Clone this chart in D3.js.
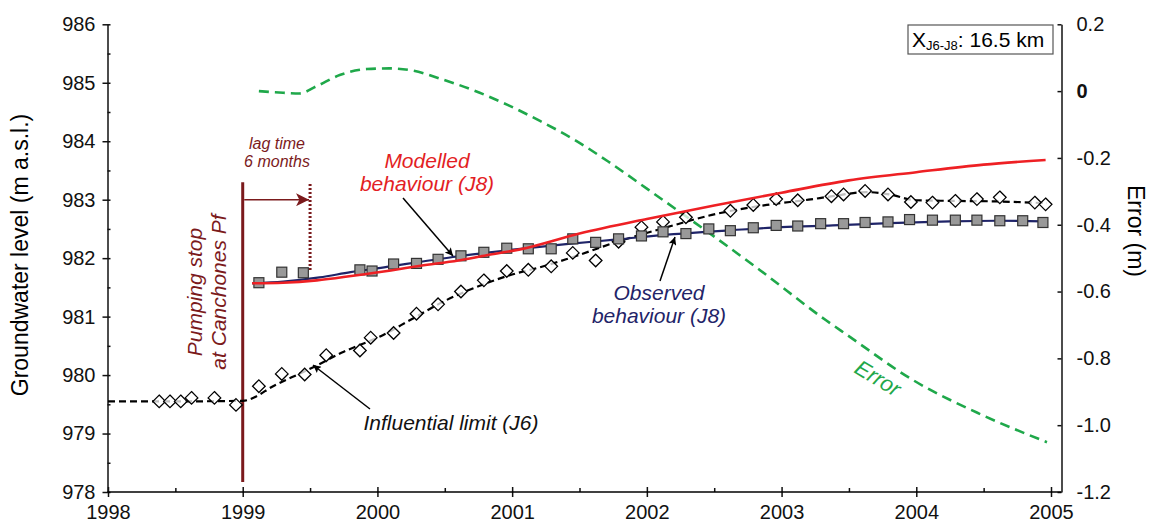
<!DOCTYPE html>
<html>
<head>
<meta charset="utf-8">
<script src="https://cdn.jsdelivr.net/npm/d3@7"></script>
<style>
  body { margin: 0; background: #fff; }
  svg { display: block; font-family: "Liberation Sans", Arial, sans-serif; }
</style>
</head>
<body>
<div id="chart"></div>
<script>
// observed J8 (grey squares)
var j8_years = [1999.12, 1999.29, 1999.45, 1999.87, 1999.96, 2000.12, 2000.29, 2000.45, 2000.62, 2000.79, 2000.96,
  2001.12, 2001.29, 2001.45, 2001.62, 2001.79, 2001.96, 2002.12, 2002.29, 2002.46, 2002.62, 2002.79, 2002.96,
  2003.12, 2003.29, 2003.46, 2003.62, 2003.79, 2003.95, 2004.12, 2004.29, 2004.45, 2004.62, 2004.79, 2004.94]
var j8_level = [981.58, 981.76, 981.75, 981.80, 981.78, 981.90, 981.91, 981.98, 982.04, 982.10, 982.17,
  982.16, 982.16, 982.33, 982.27, 982.33, 982.38, 982.45, 982.42, 982.50, 982.47, 982.52, 982.56,
  982.55, 982.59, 982.59, 982.61, 982.62, 982.66, 982.65, 982.65, 982.65, 982.64, 982.64, 982.61]

// influential limit J6 (open diamonds)
var j6_years = [1998.38, 1998.46, 1998.54, 1998.62, 1998.79, 1998.95, 1999.12, 1999.29, 1999.46, 1999.62, 1999.87,
  1999.95, 2000.12, 2000.29, 2000.45, 2000.62, 2000.79, 2000.96, 2001.12, 2001.29, 2001.45, 2001.62, 2001.79,
  2001.96, 2002.12, 2002.29, 2002.62, 2002.79, 2002.96, 2003.12, 2003.37, 2003.46, 2003.62, 2003.79, 2003.96,
  2004.12, 2004.29, 2004.45, 2004.62, 2004.88, 2004.96]
var j6_level = [979.55, 979.55, 979.55, 979.61, 979.61, 979.49, 979.81, 980.02, 980.01, 980.34, 980.42,
  980.64, 980.72, 981.05, 981.21, 981.43, 981.62, 981.78, 981.80, 981.86, 982.09, 981.96, 982.28,
  982.53, 982.62, 982.70, 982.81, 982.91, 983.01, 982.99, 983.06, 983.09, 983.15, 983.09, 982.96,
  982.95, 982.98, 983.01, 983.04, 982.95, 982.92]

// J6 dashed trend
var j6_fit_years = [1998.0, 1998.5, 1999.0, 1999.25, 1999.52, 1999.75, 2000.02, 2000.25, 2000.51, 2000.75, 2001.0,
  2001.2, 2001.4, 2001.78, 2002.15, 2002.52, 2002.89, 2003.2, 2003.38, 2003.63, 2003.8, 2004.0, 2004.25, 2004.6, 2004.97]
var j6_fit_level = [979.55, 979.55, 979.56, 979.84, 980.13, 980.4, 980.66, 980.95, 981.28, 981.52, 981.72,
  981.84, 981.98, 982.28, 982.53, 982.76, 982.91, 983.0, 983.06, 983.13, 983.09, 982.99, 982.98, 982.97, 982.94]

// observed behaviour J8 (navy line)
var obs_years = [1999.07, 1999.3, 1999.57, 1999.8, 2000.07, 2000.3, 2000.56, 2000.8, 2001.06, 2001.4, 2001.78,
  2002.2, 2002.64, 2003.0, 2003.38, 2003.8, 2004.25, 2004.6, 2004.95]
var obs_level = [981.57, 981.6, 981.67, 981.76, 981.85, 981.93, 982.02, 982.09, 982.16, 982.24, 982.32,
  982.41, 982.48, 982.53, 982.56, 982.6, 982.63, 982.64, 982.63]

// modelled behaviour J8 (red line)
var model_years = [1999.07, 1999.3, 1999.55, 1999.82, 2000.1, 2000.32, 2000.6, 2000.81, 2001.06, 2001.5, 2002.0,
  2002.5, 2003.0, 2003.5, 2004.0, 2004.5, 2004.96]
var model_level = [981.57, 981.58, 981.62, 981.70, 981.79, 981.87, 981.96, 982.05, 982.15, 982.42, 982.67,
  982.9, 983.12, 983.33, 983.47, 983.6, 983.68]

// error (right axis)
var err_years = [1999.12, 1999.3, 1999.42, 1999.55, 1999.72, 1999.92, 2000.09, 2000.27, 2000.46, 2000.71, 2000.97,
  2001.21, 2001.46, 2001.71, 2002.0, 2002.35, 2002.84, 2003.33, 2003.48, 2003.98, 2004.47, 2004.97]
var err_values = [0.0, -0.005, -0.007, 0.015, 0.048, 0.066, 0.068, 0.061, 0.038, 0.003, -0.042,
  -0.09, -0.145, -0.21, -0.292, -0.392, -0.536, -0.686, -0.728, -0.866, -0.966, -1.051]

// ticks
var year_ticks = [1998, 1999, 2000, 2001, 2002, 2003, 2004, 2005]
var year_minor = [1998.5, 1999.5, 2000.5, 2001.5, 2002.5, 2003.5, 2004.5]
var level_ticks = [978, 979, 980, 981, 982, 983, 984, 985, 986]
var level_minor = [978.5, 979.5, 980.5, 981.5, 982.5, 983.5, 984.5, 985.5]
var err_ticks = [0.2, 0, -0.2, -0.4, -0.6, -0.8, -1.0, -1.2]

var width = 1149
var height = 522
var plot = { left: 107.5, right: 1061.5, top: 24.3, bottom: 492 }

var svg = d3.select('#chart')
  .append('svg')
  .attr('width', width)
  .attr('height', height)

var x = d3.scaleLinear().domain([1998, 2005]).range([108, 1051])
var yL = d3.scaleLinear().domain([978, 986]).range([plot.bottom, plot.top])
var yR = d3.scaleLinear().domain([-1.2, 0.2]).range([plot.bottom, plot.top])

var darkRed = '#7b1a1c'
var navy = '#1f2468'

// markers
var defs = svg.append('defs')
defs.append('marker')
  .attr('id', 'arrowBlack')
  .attr('viewBox', '0 0 10 10')
  .attr('refX', 10).attr('refY', 5)
  .attr('markerUnits', 'userSpaceOnUse')
  .attr('markerWidth', 10).attr('markerHeight', 8)
  .attr('orient', 'auto')
  .append('path').attr('d', 'M0,0 L10,5 L0,10 L2,5 Z').attr('fill', '#000')
defs.append('marker')
  .attr('id', 'arrowRed')
  .attr('viewBox', '0 0 10 10')
  .attr('refX', 10).attr('refY', 5)
  .attr('markerUnits', 'userSpaceOnUse')
  .attr('markerWidth', 20).attr('markerHeight', 13)
  .attr('orient', 'auto')
  .append('path').attr('d', 'M0,0 L10,5 L0,10 L2.5,5 Z').attr('fill', darkRed)

// left axis
var leftAxis = svg.append('g')
  .attr('transform', 'translate(' + plot.left + ',0)')
  .call(d3.axisLeft(yL).tickValues(level_ticks).tickSize(5).tickSizeOuter(0).tickPadding(7))
leftAxis.selectAll('.tick line').attr('x1', 3)
svg.append('g')
  .attr('transform', 'translate(' + plot.left + ',0)')
  .call(d3.axisRight(yL).tickValues(level_minor).tickSize(3).tickFormat(''))
  .select('.domain').remove()

// right axis
var rightAxis = svg.append('g')
  .attr('transform', 'translate(' + plot.right + ',0)')
  .call(d3.axisRight(yR).tickValues(err_ticks).tickSize(-4).tickSizeOuter(0).tickPadding(15)
    .tickFormat(d => d === 0 ? '0' : d.toFixed(1)))
rightAxis.selectAll('.tick text').filter(d => d === 0).attr('font-weight', 'bold')

// bottom axis
var bottomAxis = svg.append('g')
  .attr('transform', 'translate(0,' + plot.bottom + ')')
  .call(d3.axisBottom(x).tickValues(year_ticks).tickSize(5).tickSizeOuter(0).tickPadding(8).tickFormat(d3.format('d')))
bottomAxis.select('.domain').remove()
bottomAxis.selectAll('.tick line').attr('y1', -5)
svg.append('g')
  .attr('transform', 'translate(0,' + plot.bottom + ')')
  .call(d3.axisTop(x).tickValues(year_minor).tickSize(4).tickFormat(''))
  .select('.domain').remove()
svg.append('line')
  .attr('x1', plot.left).attr('x2', plot.right)
  .attr('y1', plot.bottom).attr('y2', plot.bottom)
  .attr('stroke', '#000').attr('stroke-width', 1.5)

svg.selectAll('.tick text').attr('font-size', 20).attr('font-family', '"Liberation Sans", Arial, sans-serif').attr('fill', '#111')
svg.selectAll('.domain, .tick line').attr('stroke', '#111').attr('stroke-width', 1.5)

// axis titles
svg.append('text')
  .attr('transform', 'translate(28,255) rotate(-90)')
  .attr('text-anchor', 'middle')
  .attr('font-size', 23)
  .text('Groundwater level (m a.s.l.)')
svg.append('text')
  .attr('transform', 'translate(1128,231) rotate(90)')
  .attr('text-anchor', 'middle')
  .attr('font-size', 23)
  .text('Error (m)')

// distance box
svg.append('rect')
  .attr('x', 908).attr('y', 25).attr('width', 145).attr('height', 29)
  .attr('fill', '#fff').attr('stroke', '#555').attr('stroke-width', 1.2)
var boxText = svg.append('text').attr('x', 912).attr('y', 46.5).attr('font-size', 21)
boxText.append('tspan').text('X')
boxText.append('tspan').attr('font-size', 13).attr('dy', 3).text('J6-J8')
boxText.append('tspan').attr('dy', -3).text(': 16.5 km')

// helper to zip arrays
function zip(xs, ys) { return xs.map((d, i) => [d, ys[i]]) }

var lineL = d3.line().x(d => x(d[0])).y(d => yL(d[1])).curve(d3.curveMonotoneX)
var lineR = d3.line().x(d => x(d[0])).y(d => yR(d[1])).curve(d3.curveMonotoneX)

// error line
svg.append('path')
  .datum(zip(err_years, err_values))
  .attr('d', lineR)
  .attr('fill', 'none')
  .attr('stroke', '#1fa84a')
  .attr('stroke-width', 2.6)
  .attr('stroke-dasharray', '10,6')

// pumping stop line + lag arrow
svg.append('line')
  .attr('x1', x(1999)).attr('x2', x(1999))
  .attr('y1', yL(983.3)).attr('y2', yL(978.17))
  .attr('stroke', darkRed).attr('stroke-width', 3)
svg.append('line')
  .attr('x1', x(1999.5)).attr('x2', x(1999.5))
  .attr('y1', yL(983.27)).attr('y2', yL(981.77))
  .attr('stroke', darkRed).attr('stroke-width', 3).attr('stroke-dasharray', '2,2')
svg.append('line')
  .attr('x1', x(1999) + 1.5).attr('x2', x(1999.5) - 1)
  .attr('y1', yL(983.0)).attr('y2', yL(983.0))
  .attr('stroke', darkRed).attr('stroke-width', 1.6)
  .attr('marker-end', 'url(#arrowRed)')

// J6 dashed trend and diamonds
svg.append('path')
  .datum(zip(j6_fit_years, j6_fit_level))
  .attr('d', lineL)
  .attr('fill', 'none')
  .attr('stroke', '#000')
  .attr('stroke-width', 2.2)
  .attr('stroke-dasharray', '7,4')
svg.selectAll('.diamond')
  .data(zip(j6_years, j6_level))
  .enter()
  .append('path')
  .attr('class', 'diamond')
  .attr('d', 'M0,-6.3 L6.3,0 L0,6.3 L-6.3,0 Z')
  .attr('transform', d => 'translate(' + x(d[0]) + ',' + yL(d[1]) + ')')
  .attr('fill', '#fff')
  .attr('fill-opacity', 0.75)
  .attr('stroke', '#000')
  .attr('stroke-width', 1.3)

// observed behaviour line + squares
svg.append('path')
  .datum(zip(obs_years, obs_level))
  .attr('d', lineL)
  .attr('fill', 'none')
  .attr('stroke', navy)
  .attr('stroke-width', 2.2)
svg.selectAll('.square')
  .data(zip(j8_years, j8_level))
  .enter()
  .append('rect')
  .attr('class', 'square')
  .attr('x', d => x(d[0]) - 5)
  .attr('y', d => yL(d[1]) - 5)
  .attr('width', 10)
  .attr('height', 10)
  .attr('fill', '#999')
  .attr('stroke', '#333')
  .attr('stroke-width', 1.2)

// modelled behaviour line
svg.append('path')
  .datum(zip(model_years, model_level))
  .attr('d', lineL)
  .attr('fill', 'none')
  .attr('stroke', '#ee2024')
  .attr('stroke-width', 2.6)

// annotations
function label(lines, cx, y0, dy, size, color) {
  lines.forEach((t, i) => {
    svg.append('text')
      .attr('x', cx).attr('y', y0 + i * dy)
      .attr('text-anchor', 'middle')
      .attr('font-size', size)
      .attr('font-style', 'italic')
      .attr('fill', color)
      .text(t)
  })
}
label(['lag time', '6 months'], 277, 149, 18, 16, darkRed)
label(['Modelled', 'behaviour (J8)'], 427, 168, 23, 21, '#e31e24')
label(['Observed', 'behaviour (J8)'], 659, 300, 22.5, 21, navy)
label(['Influential limit (J6)'], 451, 430, 0, 21, '#111')

svg.append('text')
  .attr('transform', 'translate(202,292) rotate(-90)')
  .attr('text-anchor', 'middle').attr('font-size', 21).attr('font-style', 'italic').attr('fill', darkRed)
  .text('Pumping stop')
svg.append('text')
  .attr('transform', 'translate(226,292) rotate(-90)')
  .attr('text-anchor', 'middle').attr('font-size', 21).attr('font-style', 'italic').attr('fill', darkRed)
  .text('at Canchones Pf')

svg.append('text')
  .attr('transform', 'translate(878,378) rotate(31)')
  .attr('text-anchor', 'middle').attr('dy', '0.35em')
  .attr('font-size', 22).attr('font-style', 'italic').attr('fill', '#1fa84a')
  .text('Error')

// pointer arrows
var arrows = [
  [403, 198, 453, 256],
  [660, 281, 675, 237],
  [370, 409, 313, 365]
]
svg.selectAll('.pointer')
  .data(arrows)
  .enter()
  .append('line')
  .attr('class', 'pointer')
  .attr('x1', d => d[0]).attr('y1', d => d[1])
  .attr('x2', d => d[2]).attr('y2', d => d[3])
  .attr('stroke', '#000').attr('stroke-width', 1.5)
  .attr('marker-end', 'url(#arrowBlack)')
</script>
</body>
</html>
